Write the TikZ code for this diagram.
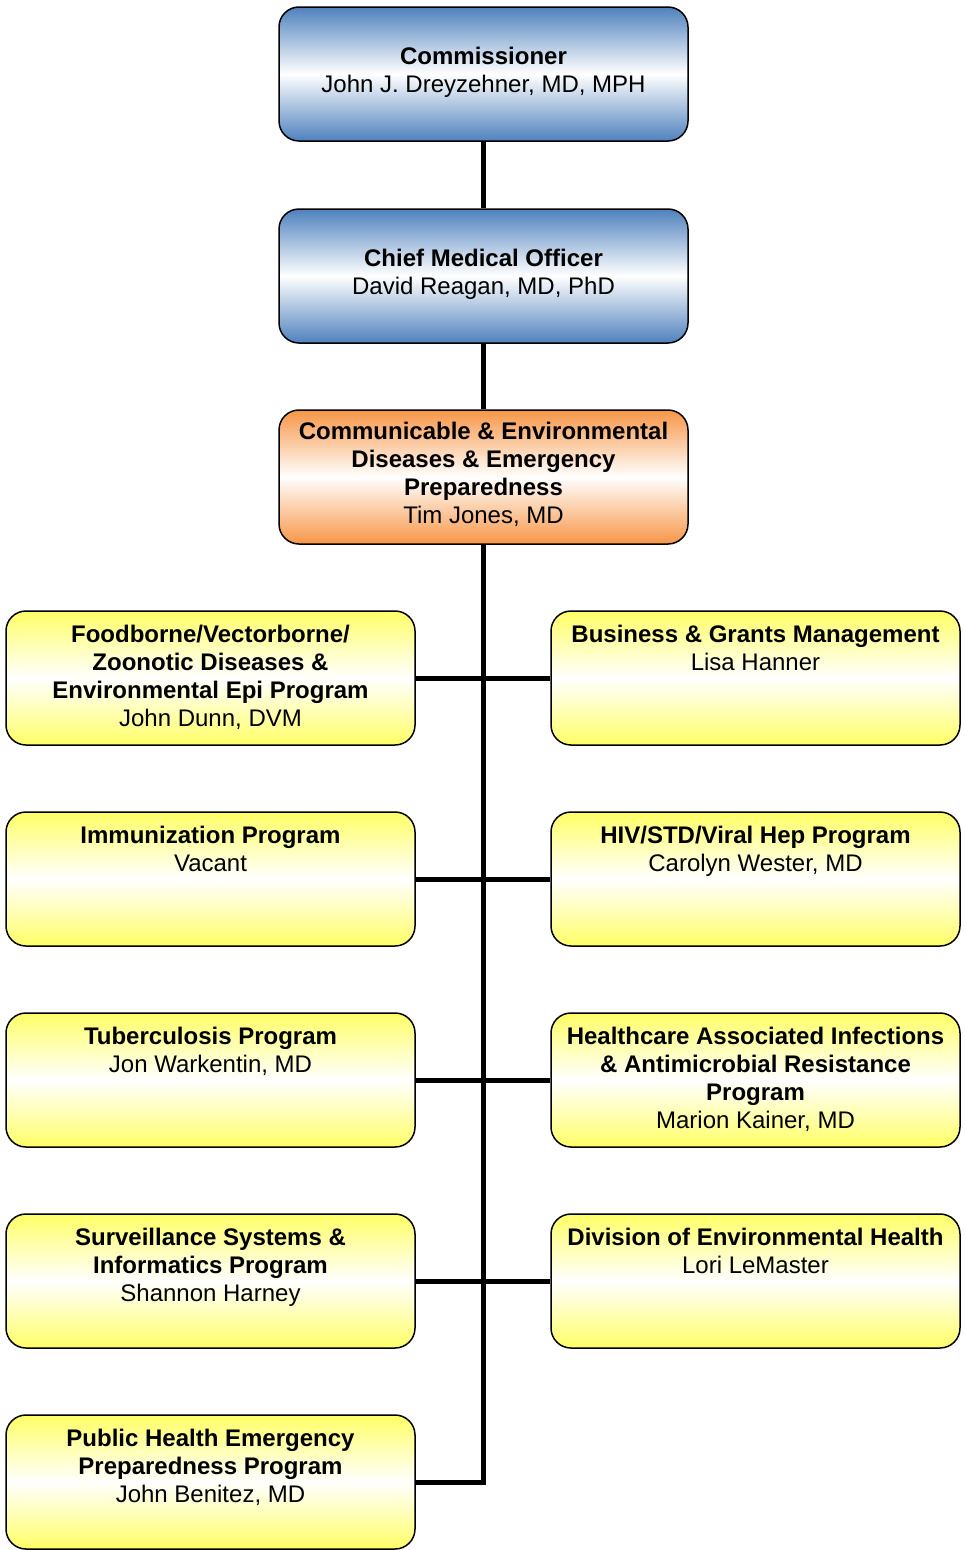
\documentclass[tikz,border=0pt]{standalone}
\usepackage{fontspec}
\setmainfont{Liberation Sans}
\definecolor{blueTop}{RGB}{79,129,189}
\definecolor{orangeTop}{RGB}{247,150,70}
\definecolor{yellowTop}{RGB}{255,255,102}
\begin{document}
\begin{tikzpicture}[x=1pt,y=-1pt,
  box/.style={draw=black, line width=1.5pt, rounded corners=20pt, minimum width=409pt, minimum height=134pt, inner sep=0pt},
  bluebox/.style={box, top color=blueTop, bottom color=blueTop, middle color=white},
  orangebox/.style={box, top color=orangeTop, bottom color=orangeTop, middle color=white},
  yellowbox/.style={box, top color=yellowTop, bottom color=yellowTop, middle color=white},
  txt/.style={align=center, font=\fontsize{24}{28}\selectfont, inner sep=0pt},
  toptxt/.style={txt, anchor=north},
  conn/.style={draw=black, line width=5pt}
]
\useasboundingbox (0,0) rectangle (965,1550);
% top boxes
\node[bluebox] (comm) at (483.5,74) {};
\node[txt] (commT) at (483.5,72) {\textbf{Commissioner}\\John J. Dreyzehner, MD, MPH};
\node[bluebox] (cmo) at (483.5,276) {};
\node[txt] (cmoT) at (483.5,274) {\textbf{Chief Medical Officer}\\David Reagan, MD, PhD};
\node[orangebox] (ced) at (483.5,477) {};
\node[txt] (cedT) at (483.5,474) {\textbf{Communicable \& Environmental}\\\textbf{Diseases \& Emergency}\\\textbf{Preparedness}\\Tim Jones, MD};
% connectors (drawn before lower boxes)
\draw[conn] (comm.south) -- (cmo.north);
\draw[conn] (cmo.south) -- (ced.north);
% yellow boxes
\foreach \n/\y in {1/678,2/879,3/1080,4/1281,5/1482}{
  \node[yellowbox] (L\n) at (210.5,\y) {};
}
\foreach \n/\y in {1/678,2/879,3/1080,4/1281}{
  \node[yellowbox] (R\n) at (755.5,\y) {};
}
\draw[conn, line join=miter] (ced.south) |- (L5.east);
\foreach \n in {1,2,3,4}{
  \draw[conn] (L\n.east) -- (R\n.west);
}
% texts
\node[toptxt] (L1T) at ([yshift=-15pt]L1.north) {\textbf{Foodborne/Vectorborne/}\\\textbf{Zoonotic Diseases \&}\\\textbf{Environmental Epi Program}\\John Dunn, DVM};
\node[toptxt] (R1T) at ([yshift=-15pt]R1.north) {\textbf{Business \& Grants Management}\\Lisa Hanner};
\node[toptxt] (L2T) at ([yshift=-15pt]L2.north) {\textbf{Immunization Program}\\Vacant};
\node[toptxt] (R2T) at ([yshift=-15pt]R2.north) {\textbf{HIV/STD/Viral Hep Program}\\Carolyn Wester, MD};
\node[toptxt] (L3T) at ([yshift=-15pt]L3.north) {\textbf{Tuberculosis Program}\\Jon Warkentin, MD};
\node[toptxt] (R3T) at ([yshift=-15pt]R3.north) {\textbf{Healthcare Associated Infections}\\\textbf{\& Antimicrobial Resistance}\\\textbf{Program}\\Marion Kainer, MD};
\node[toptxt] (L4T) at ([yshift=-15pt]L4.north) {\textbf{Surveillance Systems \&}\\\textbf{Informatics Program}\\Shannon Harney};
\node[toptxt] (R4T) at ([yshift=-15pt]R4.north) {\textbf{Division of Environmental Health}\\Lori LeMaster};
\node[toptxt] (L5T) at ([yshift=-15pt]L5.north) {\textbf{Public Health Emergency}\\\textbf{Preparedness Program}\\John Benitez, MD};
\end{tikzpicture}
\end{document}
